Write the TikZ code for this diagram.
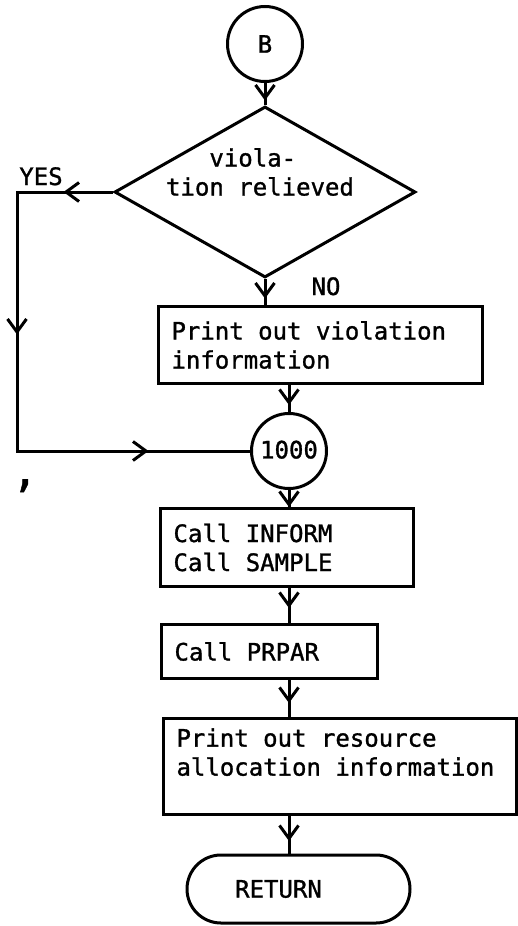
\documentclass[tikz,border=0pt]{standalone}
\usepackage{fontspec}
\newfontfamily\printerfont[FakeBold=1.2]{DejaVu Sans Mono}
\usetikzlibrary{shapes,arrows.meta}
\usetikzlibrary{decorations.markings}

\begin{document}
\begin{tikzpicture}[x=1pt, y=-1pt, line width=3pt,
    font=\printerfont\fontsize{24}{29}\selectfont,
    every node/.style={execute at begin node={\spaceskip=0.602em\relax}},
    >={Straight Barb[length=13pt, width=19pt]},
    procbox/.style={draw, rectangle, anchor=north west, align=left,
      inner xsep=13pt, inner ysep=0pt},
    decision/.style={draw, diamond, inner sep=0pt,
      minimum width=301pt, minimum height=171pt},
    connector/.style={draw, circle, inner sep=0pt, minimum size=75pt},
    terminal/.style={draw, rounded rectangle, inner sep=0pt,
      minimum width=223pt, minimum height=68pt},
    flowline/.style={postaction={decorate},
      decoration={markings, mark=at position #1 with {\arrow{>}}}}]
  \useasboundingbox (0,0) rectangle (518,926);

  % Entry point and test
  \node[connector] (b) at (265,44) {\raisebox{-4pt}{B}};
  \node[decision] (dec) at (265,192) {};
  \node[inner sep=0pt, align=left] (dtext) at (260,172) {\phantom{tio}viola-\\tion relieved};
  \node[anchor=base] (yes) at (41,185) {YES};
  \node[anchor=base] (no) at (326,295) {NO};
  \coordinate (yesc) at (17,192);

  % Main column
  \node[procbox, text width=298pt, minimum height=77pt] (viol) at (157,305)
    {Print out violation\\information};
  \node[connector] (n1000) at (289,451) {\raisebox{3pt}{1000}};
  \node[anchor=base, font=\printerfont\fontsize{44}{44}\selectfont] (blot) at (25,486) {,};
  \node[procbox, text width=227pt, minimum height=78pt] (call1) at (159,507)
    {Call INFORM\\Call SAMPLE};
  \node[procbox, text width=190pt, minimum height=54pt] (call2) at (160,623)
    {Call PRPAR};
  \node[procbox, text width=327pt, minimum height=96pt] (report) at (162,717)
    {Print out resource\\allocation information\\\mbox{}};
  \node[terminal] (ret) at (298.5,889) {\kern-40pt RETURN};

  % Flow lines
  \draw[flowline=17.5pt] (b) -- (dec);
  \draw[flowline=19.5pt] (dec) -- (viol.north -| dec);
  \draw[postaction={decorate}, decoration={markings,
      mark=at position 49.5pt with {\arrow{>}},
      mark=at position 238.5pt with {\arrow{>}},
      mark=at position 486.5pt with {\arrow{>}}}]
    (dec.west) -- (yesc) -- (yesc |- n1000) -- (n1000);
  \draw[flowline=20pt] (viol.south -| n1000) -- (n1000);
  \draw[flowline=17pt] (n1000) -- (call1.north -| n1000);
  \draw[flowline=20pt] (call1.south -| n1000) -- (call2.north -| n1000);
  \draw[flowline=23pt] (call2.south -| n1000) -- (report.north -| n1000);
  \draw[flowline=25pt] (report.south -| n1000) -- (ret.north -| n1000);
\end{tikzpicture}
\end{document}
